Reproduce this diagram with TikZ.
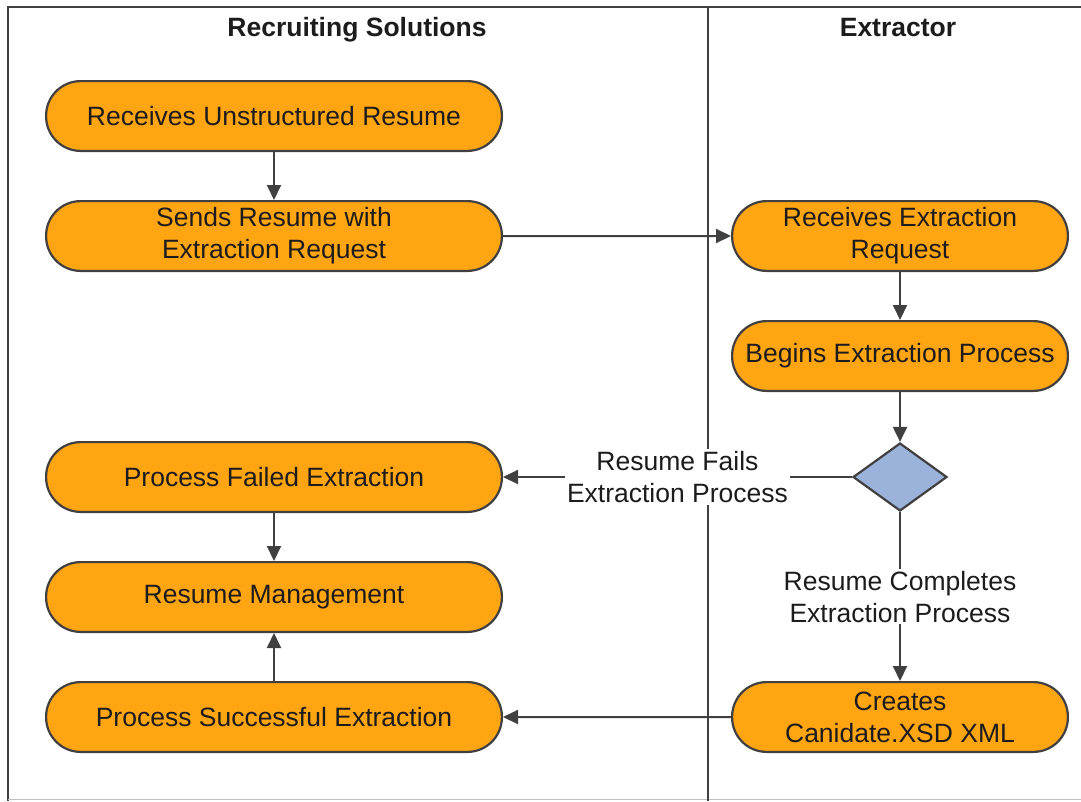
\documentclass[tikz,border=0pt]{standalone}
\usepackage{fontspec}
\setmainfont{Liberation Sans}
\usepackage{xcolor}
\definecolor{boxorange}{RGB}{255,165,17}
\definecolor{diablue}{RGB}{155,178,218}
\definecolor{linegray}{RGB}{64,64,64}
\definecolor{txtgray}{RGB}{28,28,28}
\usetikzlibrary{arrows.meta, positioning, shapes.geometric}

\begin{document}
\begin{tikzpicture}[x=1pt, y=-1pt,
  node distance=48pt,
  actwide/.style={draw=linegray, fill=boxorange, line width=2.2pt, rounded corners=34.5pt,
              align=center, minimum width=455.8pt, minimum height=69.8pt, inner sep=0pt,
              text=txtgray, font=\fontsize{26.5}{32}\selectfont},
  actnarrow/.style={actwide, minimum width=335.8pt},
  decbox/.style={draw=linegray, fill=diablue, line width=2.2pt, diamond,
              minimum width=94pt, minimum height=68pt, inner sep=0pt},
  lanehead/.style={font=\fontsize{26.5}{32}\selectfont\bfseries, text=txtgray, anchor=base},
  edgelbl/.style={fill=white, align=center, inner sep=2pt, text=txtgray,
              font=\fontsize{26.5}{32}\selectfont},
  flowarr/.style={-{Triangle[length=15pt, width=14pt]}, line width=2pt, linegray}
]
  \useasboundingbox (0,0) rectangle (1081,801);

  % -- Frame and lanes --
  \draw[linegray, line width=2.5pt] (1081,7) -- (8,7) -- (8,801);
  \draw[gray!50, line width=1.5pt] (8,799.5) -- (1081,799.5);
  \draw[linegray, line width=2.5pt] (708,7) -- (708,801);
  \node[lanehead] (hrs) at (357,36) {Recruiting Solutions};
  \node[lanehead] (hex) at (898,36) {Extractor};

  % -- Recruiting Solutions lane --
  \node[actwide] (rec)  at (274,116) {Receives Unstructured Resume};
  \node[actwide, below=of rec] (send) {Sends Resume with\\Extraction Request};
  \node[actwide] (fail) at (274,477) {Process Failed Extraction};
  \node[actwide, below=of fail] (mgmt) {Resume Management};
  \node[actwide, below=of mgmt] (succ) {Process Successful Extraction};

  % -- Extractor lane --
  \node[actnarrow] (recx) at (900,236) {Receives Extraction\\Request};
  \node[actnarrow, below=of recx] (begin) {Begins Extraction Process};
  \node[decbox] (dec) at (900,477) {};
  \node[actnarrow] (creates) at (900,717) {Creates\\Canidate.XSD XML};

  % -- Arrows --
  \draw[flowarr] (rec) -- (send);
  \draw[flowarr] (send) -- (recx);
  \draw[flowarr] (recx) -- (begin);
  \draw[flowarr] (begin) -- (dec);
  \draw[flowarr] (dec.west) -- (fail.east)
    node[edgelbl, midway] {Resume Fails\\Extraction Process};
  \draw[flowarr] (dec.south) -- (creates.north)
    node[edgelbl, midway] {Resume Completes\\Extraction Process};
  \draw[flowarr] (creates) -- (succ);
  \draw[flowarr] (fail) -- (mgmt);
  \draw[flowarr] (succ) -- (mgmt);

\end{tikzpicture}
\end{document}
